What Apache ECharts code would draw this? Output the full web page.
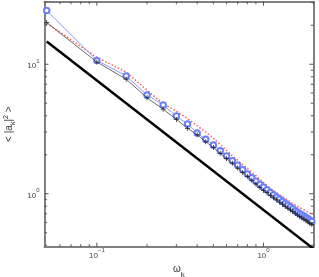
<!DOCTYPE html>
<html>
<head>
<meta charset="utf-8">
<script src="https://cdn.jsdelivr.net/npm/echarts@6/dist/echarts.min.js"></script>
<style>html,body{margin:0;padding:0;background:#fff;}#c{width:319px;height:277px;}</style>
</head>
<body>
<div id="c"></div>
<script>
// omega_k values (x)
const omega = [0.05,0.1,0.15,0.2,0.25,0.3,0.35,0.4,0.45,0.5,0.55,0.6,0.65,0.7,0.75,0.8,0.85,0.9,0.95,1.0,
  1.05,1.1,1.15,1.2,1.25,1.3,1.35,1.4,1.45,1.5,1.55,1.6,1.65,1.7,1.75,1.8,1.85,1.9,1.95,2.0];
// blue line with circles
const blueVals = [26.0,10.7,8.13,5.78,4.84,3.98,3.45,2.94,2.63,2.38,2.15,1.96,1.80,1.66,1.53,1.42,1.33,1.25,1.18,1.12,
  1.07,1.02,0.98,0.94,0.905,0.87,0.84,0.815,0.79,0.765,0.74,0.72,0.70,0.685,0.67,0.655,0.64,0.625,0.61,0.60];
// black thin line with plus markers
const blackVals = [21.0,10.4,7.67,5.5,4.5,3.75,3.2,2.85,2.52,2.28,2.05,1.87,1.72,1.58,1.46,1.36,1.27,1.19,1.12,1.06,
  1.02,0.97,0.93,0.895,0.86,0.83,0.80,0.775,0.75,0.73,0.705,0.685,0.665,0.65,0.635,0.62,0.605,0.59,0.58,0.565];
// red dotted line
const redVals = [20.7,11.3,8.7,6.3,4.95,4.35,3.8,3.35,3.0,2.68,2.40,2.16,1.97,1.81,1.68,1.57,1.47,1.38,1.30,1.22,
  1.16,1.10,1.06,1.02,0.98,0.95,0.92,0.89,0.865,0.84,0.82,0.80,0.78,0.765,0.75,0.735,0.72,0.71,0.70,0.69];
// thick reference line (slope -1)
const refX = [0.05, 2.0];
const refY = [15.0, 0.375];
// ticks
const xMinorTicks = [0.06,0.07,0.08,0.09,0.2,0.3,0.4,0.5,0.6,0.7,0.8,0.9,2];
const xMajorTicks = [0.1, 1];
const yMinorTicks = [0.4,0.5,0.6,0.7,0.8,0.9,2,3,4,5,6,7,8,9,20,30];
const yMajorTicks = [1, 10];

const pair = (xs, ys) => xs.map((x, i) => [x, ys[i]]);
const supLabel = v => {
  const e = Math.round(Math.log10(v));
  return '{b|10}{s|' + (e < 0 ? '\u2212' + (-e) : e) + '}';
};
const labelRich = {
  b: {fontSize: 8, color: '#444', fontFamily: 'Liberation Sans', lineHeight: 12, verticalAlign: 'bottom'},
  s: {fontSize: 6, color: '#444', fontFamily: 'Liberation Sans', lineHeight: 12, verticalAlign: 'top'}
};
const frameLine = {show: true, lineStyle: {color: '#808080', width: 2}};
const XMIN = 0.0485, XMAX = 1.99, YMIN = 0.39, YMAX = 30.4;

// tick marks drawn inside the frame, at positions given by the axes' scales
function tickSeries(values, dir, len) {
  return {
    type: 'custom', silent: true, clip: false, z: 10,
    data: values.map(v => dir === 'x' ? [v, YMIN] : [XMIN, v]),
    renderItem: (params, api) => {
      const style = {stroke: '#555', lineWidth: 1};
      if (dir === 'x') {
        const a = api.coord([api.value(0), YMIN]);
        const b = api.coord([api.value(0), YMAX]);
        return {type: 'group', children: [
          {type: 'line', shape: {x1: a[0], y1: a[1], x2: a[0], y2: a[1] - len}, style},
          {type: 'line', shape: {x1: b[0], y1: b[1], x2: b[0], y2: b[1] + len}, style}
        ]};
      } else {
        const a = api.coord([XMIN, api.value(1)]);
        const b = api.coord([XMAX, api.value(1)]);
        return {type: 'group', children: [
          {type: 'line', shape: {x1: a[0], y1: a[1], x2: a[0] + len, y2: a[1]}, style},
          {type: 'line', shape: {x1: b[0], y1: b[1], x2: b[0] - len, y2: b[1]}, style}
        ]};
      }
    }
  };
}

const chart = echarts.init(document.getElementById('c'), null, {renderer: 'canvas'});
chart.setOption({
  animation: false,
  backgroundColor: '#fff',
  grid: {left: 44.5, right: 5.7, top: 1.7, bottom: 30.3, containLabel: false, outerBoundsMode: 'none'},
  xAxis: [{
    type: 'log', logBase: 10, min: XMIN, max: XMAX, position: 'bottom',
    axisLine: frameLine, axisTick: {show: false},
    axisLabel: {show: true, margin: 1, customValues: xMajorTicks, formatter: supLabel, rich: labelRich},
    splitLine: {show: false}, minorTick: {show: false},
    name: '{w|\u03c9}{k|k}', nameLocation: 'middle', nameGap: 7,
    nameTextStyle: {rich: {
      w: {fontSize: 10, color: '#333', fontFamily: 'Liberation Sans', lineHeight: 14, verticalAlign: 'top'},
      k: {fontSize: 8, color: '#333', fontFamily: 'Liberation Sans', lineHeight: 14, verticalAlign: 'bottom'}
    }}
  }, {
    type: 'log', logBase: 10, min: XMIN, max: XMAX, position: 'top',
    axisLine: frameLine, axisTick: {show: false},
    axisLabel: {show: false}, splitLine: {show: false}
  }],
  yAxis: [{
    type: 'log', logBase: 10, min: YMIN, max: YMAX, position: 'left',
    axisLine: frameLine, axisTick: {show: false},
    axisLabel: {show: true, margin: 5, customValues: yMajorTicks, formatter: supLabel, rich: labelRich},
    splitLine: {show: false},
    name: '< |a{k|k}|{s|2} >', nameLocation: 'middle', nameGap: 21, nameRotate: 90,
    nameTextStyle: {fontSize: 10, color: '#333', fontFamily: 'Liberation Sans', lineHeight: 14,
      rich: {
        k: {fontSize: 7, color: '#333', fontFamily: 'Liberation Sans', lineHeight: 14, verticalAlign: 'bottom'},
        s: {fontSize: 7, color: '#333', fontFamily: 'Liberation Sans', lineHeight: 14, verticalAlign: 'top'}
      }}
  }, {
    type: 'log', logBase: 10, min: YMIN, max: YMAX, position: 'right',
    axisLine: frameLine, axisTick: {show: false},
    axisLabel: {show: false}, splitLine: {show: false}
  }],
  series: [
    tickSeries(xMinorTicks, 'x', 2.5),
    tickSeries(xMajorTicks, 'x', 4),
    tickSeries(yMinorTicks, 'y', 2.5),
    tickSeries(yMajorTicks, 'y', 4),
    {
      type: 'line', name: 'ref', data: pair(refX, refY), showSymbol: false, symbol: 'none',
      lineStyle: {color: '#000', width: 2.5}, clip: true, z: 2
    },
    {
      type: 'line', name: 'red', data: pair(omega, redVals), symbol: 'none',
      lineStyle: {color: '#ff5a5a', width: 1.5, type: [1.5, 2]}, clip: true, z: 3
    },
    {
      type: 'line', name: 'black', data: pair(omega, blackVals),
      symbol: 'path://M3.4,0h1.2v3.4h3.4v1.2h-3.4v3.4h-1.2v-3.4h-3.4v-1.2h3.4z', symbolSize: 5,
      showAllSymbol: true,
      itemStyle: {color: '#222', borderWidth: 0},
      lineStyle: {color: '#444', width: 0.8}, clip: true, z: 6
    },
    {
      type: 'line', name: 'blue', data: pair(omega, blueVals), symbol: 'emptyCircle', symbolSize: 5.5,
      showAllSymbol: true,
      itemStyle: {color: '#6a80ff', borderColor: '#6a80ff', borderWidth: 0.7},
      lineStyle: {color: '#8595ff', width: 1}, clip: true, z: 5
    }
  ]
});
</script>
</body>
</html>
